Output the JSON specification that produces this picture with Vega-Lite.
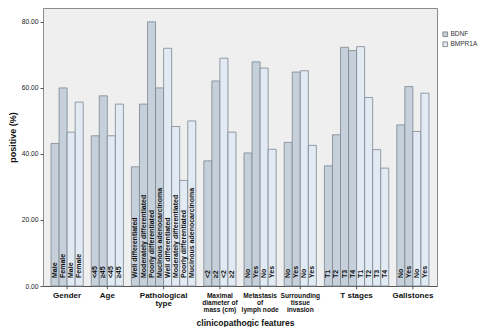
{
  "$schema": "https://vega.github.io/schema/vega-lite/v6.json",
  "autosize": "none",
  "width": 394,
  "height": 278,
  "padding": {"left": 43, "top": 8, "right": 47, "bottom": 41},
  "background": "white",
  "config": {
    "font": "Liberation Sans",
    "view": {"fill": "#efefef", "stroke": "#8c8c8c", "strokeWidth": 1}
  },
  "datasets": {
    "bars": [
      {"id": "1", "group": "Gender", "series": "BDNF", "cat": "Male", "value": 43.2},
      {"id": "2", "group": "Gender", "series": "BDNF", "cat": "Female", "value": 60.0},
      {"id": "3", "group": "Gender", "series": "BMPR1A", "cat": "Male", "value": 46.6},
      {"id": "4", "group": "Gender", "series": "BMPR1A", "cat": "Female", "value": 55.7},
      {"id": "5", "group": "Age", "series": "BDNF", "cat": "<45", "value": 45.5},
      {"id": "6", "group": "Age", "series": "BDNF", "cat": "≥45", "value": 57.6},
      {"id": "7", "group": "Age", "series": "BMPR1A", "cat": "<45", "value": 45.5},
      {"id": "8", "group": "Age", "series": "BMPR1A", "cat": "≥45", "value": 55.1},
      {"id": "9", "group": "Pathological type", "series": "BDNF", "cat": "Well differentiated", "value": 36.1},
      {"id": "10", "group": "Pathological type", "series": "BDNF", "cat": "Moderately differentiated", "value": 55.1},
      {"id": "11", "group": "Pathological type", "series": "BDNF", "cat": "Poorly differentiated", "value": 80.0},
      {"id": "12", "group": "Pathological type", "series": "BDNF", "cat": "Mucinous adenocarcinoma", "value": 60.0},
      {"id": "13", "group": "Pathological type", "series": "BMPR1A", "cat": "Well differentiated", "value": 72.0},
      {"id": "14", "group": "Pathological type", "series": "BMPR1A", "cat": "Moderately differentiated", "value": 48.3},
      {"id": "15", "group": "Pathological type", "series": "BMPR1A", "cat": "Poorly differentiated", "value": 32.0},
      {"id": "16", "group": "Pathological type", "series": "BMPR1A", "cat": "Mucinous adenocarcinoma", "value": 50.0},
      {"id": "17", "group": "Maximal diameter of mass (cm)", "series": "BDNF", "cat": "<2", "value": 37.9},
      {"id": "18", "group": "Maximal diameter of mass (cm)", "series": "BDNF", "cat": "≥2", "value": 62.1},
      {"id": "19", "group": "Maximal diameter of mass (cm)", "series": "BMPR1A", "cat": "<2", "value": 69.0},
      {"id": "20", "group": "Maximal diameter of mass (cm)", "series": "BMPR1A", "cat": "≥2", "value": 46.6},
      {"id": "21", "group": "Metastasis of lymph node", "series": "BDNF", "cat": "No", "value": 40.3},
      {"id": "22", "group": "Metastasis of lymph node", "series": "BDNF", "cat": "Yes", "value": 67.9},
      {"id": "23", "group": "Metastasis of lymph node", "series": "BMPR1A", "cat": "No", "value": 66.0},
      {"id": "24", "group": "Metastasis of lymph node", "series": "BMPR1A", "cat": "Yes", "value": 41.4},
      {"id": "25", "group": "Surrounding tissue invasion", "series": "BDNF", "cat": "No", "value": 43.5},
      {"id": "26", "group": "Surrounding tissue invasion", "series": "BDNF", "cat": "Yes", "value": 64.8},
      {"id": "27", "group": "Surrounding tissue invasion", "series": "BMPR1A", "cat": "No", "value": 65.2},
      {"id": "28", "group": "Surrounding tissue invasion", "series": "BMPR1A", "cat": "Yes", "value": 42.6},
      {"id": "29", "group": "T stages", "series": "BDNF", "cat": "T1", "value": 36.4},
      {"id": "30", "group": "T stages", "series": "BDNF", "cat": "T2", "value": 45.8},
      {"id": "31", "group": "T stages", "series": "BDNF", "cat": "T3", "value": 72.3},
      {"id": "32", "group": "T stages", "series": "BDNF", "cat": "T4", "value": 71.3},
      {"id": "33", "group": "T stages", "series": "BMPR1A", "cat": "T1", "value": 72.5},
      {"id": "34", "group": "T stages", "series": "BMPR1A", "cat": "T2", "value": 57.1},
      {"id": "35", "group": "T stages", "series": "BMPR1A", "cat": "T3", "value": 41.3},
      {"id": "36", "group": "T stages", "series": "BMPR1A", "cat": "T4", "value": 35.7},
      {"id": "37", "group": "Gallstones", "series": "BDNF", "cat": "No", "value": 48.8},
      {"id": "38", "group": "Gallstones", "series": "BDNF", "cat": "Yes", "value": 60.4},
      {"id": "39", "group": "Gallstones", "series": "BMPR1A", "cat": "No", "value": 46.8},
      {"id": "40", "group": "Gallstones", "series": "BMPR1A", "cat": "Yes", "value": 58.4}
    ],
    "groups": [
      {"id": "2", "label": "Gender", "size": "large"},
      {"id": "6", "label": "Age", "size": "large"},
      {"id": "12", "label": "Pathological\ntype", "size": "large"},
      {"id": "18", "label": "Maximal\ndiameter of\nmass (cm)", "size": "small"},
      {"id": "22", "label": "Metastasis\nof\nlymph node", "size": "small"},
      {"id": "26", "label": "Surrounding\ntissue\ninvasion", "size": "small"},
      {"id": "32", "label": "T stages", "size": "large"},
      {"id": "38", "label": "Gallstones", "size": "large"}
    ]
  },
  "encoding": {
    "x": {
      "field": "id",
      "type": "nominal",
      "sort": null,
      "scale": {
        "domain": ["s0","1","2","3","4","s1","5","6","7","8","s2","9","10","11","12","13","14","15","16","s3","17","18","19","20","s4","21","22","23","24","s5","25","26","27","28","s6","29","30","31","32","33","34","35","36","s7","37","38","39","40","s8"],
        "paddingInner": 0,
        "paddingOuter": 0
      },
      "axis": {
        "title": "clinicopathogic features",
        "labels": false,
        "ticks": false,
        "domain": true,
        "domainColor": "#555555",
        "titleFontSize": 8.5,
        "titleFontWeight": "bold",
        "titleColor": "#111111",
        "titleX": 202,
        "titleY": 36,
        "titleBaseline": "middle",
        "titleAnchor": null
      }
    }
  },
  "layer": [
    {
      "data": {"name": "bars"},
      "mark": {"type": "bar", "stroke": "#7c8691", "strokeWidth": 0.8},
      "encoding": {
        "y": {
          "field": "value",
          "type": "quantitative",
          "scale": {"domain": [0, 84.2], "nice": false, "zero": true},
          "axis": {
            "values": [0, 20, 40, 60, 80],
            "format": ".2f",
            "grid": false,
            "domain": false,
            "tickSize": 3,
            "tickColor": "#555555",
            "labelFontSize": 6.7,
            "labelColor": "#222222",
            "labelPadding": 2,
            "title": "positive (%)",
            "titleFontSize": 9,
            "titleFontWeight": "bold",
            "titleColor": "#111111",
            "titleX": -31,
            "titleY": 129,
            "titleAlign": "center",
            "titleBaseline": "middle",
            "titleAngle": -90
          }
        },
        "color": {
          "field": "series",
          "type": "nominal",
          "scale": {"domain": ["BDNF", "BMPR1A"], "range": ["#c6d0da", "#e2eaf3"]},
          "legend": {
            "title": null,
            "orient": "none",
            "legendX": 399,
            "legendY": 23,
            "direction": "vertical",
            "symbolType": "square",
            "symbolSize": 22,
            "symbolStrokeColor": "#666666",
            "symbolStrokeWidth": 0.7,
            "labelFontSize": 6.5,
            "labelColor": "#333333",
            "labelOffset": 2,
            "rowPadding": 2,
            "padding": 0
          }
        }
      }
    },
    {
      "data": {"name": "bars"},
      "mark": {"type": "text", "angle": 270, "align": "left", "baseline": "middle", "dx": 8, "fontSize": 7, "fontWeight": "bold", "color": "#111111"},
      "encoding": {
        "y": {"datum": 0, "type": "quantitative"},
        "text": {"field": "cat"}
      }
    },
    {
      "data": {"name": "groups"},
      "transform": [{"filter": "datum.size == 'large'"}],
      "mark": {"type": "text", "align": "center", "baseline": "top", "dy": 6, "fontSize": 8, "fontWeight": "bold", "lineBreak": "\n", "lineHeight": 8, "color": "#111111"},
      "encoding": {
        "x": {"field": "id", "type": "nominal", "bandPosition": 1},
        "y": {"datum": 0, "type": "quantitative"},
        "text": {"field": "label"}
      }
    },
    {
      "data": {"name": "groups"},
      "transform": [{"filter": "datum.size == 'small'"}],
      "mark": {"type": "text", "align": "center", "baseline": "top", "dy": 7, "fontSize": 6.6, "fontWeight": "bold", "lineBreak": "\n", "lineHeight": 7.2, "color": "#111111"},
      "encoding": {
        "x": {"field": "id", "type": "nominal", "bandPosition": 1},
        "y": {"datum": 0, "type": "quantitative"},
        "text": {"field": "label"}
      }
    },
    {
      "data": {"name": "groups"},
      "mark": {"type": "rule", "color": "#555555", "strokeWidth": 1},
      "encoding": {
        "x": {"field": "id", "type": "nominal", "bandPosition": 1},
        "y": {"datum": 0, "type": "quantitative"},
        "y2": {"datum": -1}
      }
    }
  ]
}
